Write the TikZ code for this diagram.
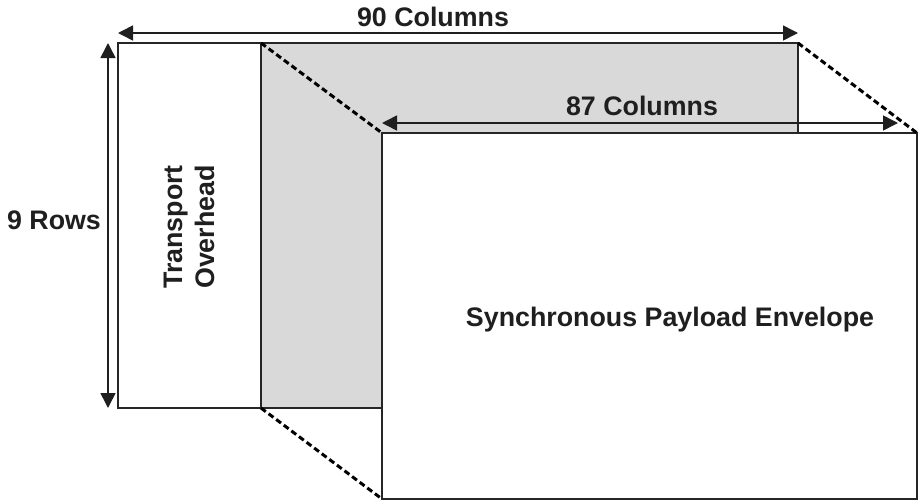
\documentclass[tikz,border=0pt]{standalone}
\usepackage{fontspec}
\setmainfont{Liberation Sans}
\usetikzlibrary{arrows.meta}
\begin{document}
\begin{tikzpicture}[x=1pt,y=-1pt,
  box/.style={draw=black!85, line width=1.6pt, inner sep=0pt, outer sep=0pt, anchor=north west},
  lbl/.style={font=\fontsize{26.8}{32}\selectfont\bfseries, text=black!88, inner sep=0pt},
  dim/.style={line width=1.6pt, draw=black!88, {Triangle[length=15pt,width=15pt]}-{Triangle[length=15pt,width=15pt]}},
  proj/.style={line width=3pt, dash pattern=on 6pt off 3.5pt, draw=black}]
\useasboundingbox (0,0) rectangle (918,501);
\node[box, fill=black!15, minimum width=537pt, minimum height=365pt] (pay) at (261,43) {};
\node[box, fill=white, minimum width=143pt, minimum height=365pt] (toh) at (118,43) {};
\node[box, fill=white, minimum width=535pt, minimum height=366pt] (spe) at (382,133) {};
\draw[proj] (pay.north west) -- (spe.north west);
\draw[proj] (pay.north east) -- (spe.north east);
\draw[proj] (pay.south west) -- (spe.south west);
\coordinate (a90l) at (118,33);
\coordinate (a90r) at (798,33);
\coordinate (a87l) at (382,123);
\coordinate (a87r) at (898,123);
\coordinate (a9t) at (108,43);
\coordinate (a9b) at (108,408);
\draw[dim] (a90l) -- (a90r);
\draw[dim] (a87l) -- (a87r);
\draw[dim] (a9t) -- (a9b);
\node[lbl] (t90) at (433,17) {90 Columns};
\node[lbl] (t87) at (642,106) {87 Columns};
\node[lbl] (t9) at (54,220) {9 Rows};
\node[lbl, rotate=90, align=center] (ttoh) at (189,227) {Transport\\Overhead};
\node[lbl] (tspe) at (670,320) {Synchronous Payload Envelope};
\end{tikzpicture}
\end{document}
